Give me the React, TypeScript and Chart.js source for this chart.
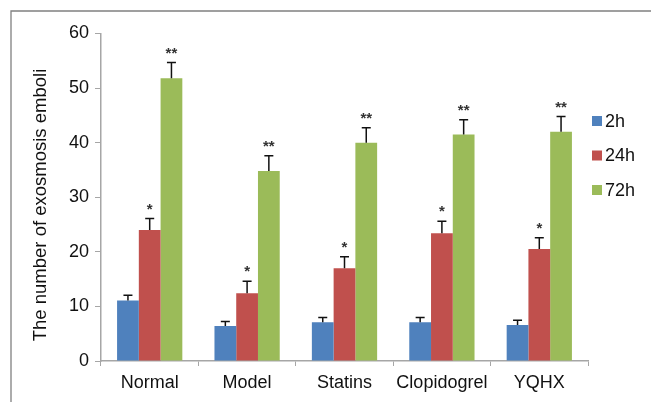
import React, { useEffect, useRef } from "react";
import { Chart, registerables } from "chart.js";

Chart.register(...registerables);

const categories = ["Normal", "Model", "Statins", "Clopidogrel", "YQHX"];
const seriesLabels = ["2h", "24h", "72h"];
const values2h = [11.1, 6.4, 7.1, 7.1, 6.6];
const values24h = [24.0, 12.4, 17.0, 23.4, 20.5];
const values72h = [51.8, 34.8, 40.0, 41.5, 42.0];
const err2h = [0.95, 0.85, 0.85, 0.85, 0.85];
const err24h = [2.1, 2.2, 2.1, 2.2, 2.1];
const err72h = [2.9, 2.8, 2.75, 2.7, 2.8];
const stars2h = ["", "", "", "", ""];
const stars24h = ["*", "*", "*", "*", "*"];
const stars72h = ["**", "**", "**", "**", "**"];
const yTicks = [0, 10, 20, 30, 40, 50, 60];
const yTitle = "The number of exosmosis emboli";
const colors = ["#4F81BD", "#C0504D", "#9BBB59"];

const errors = [err2h, err24h, err72h];
const stars = [stars2h, stars24h, stars72h];

const FONT = "'Liberation Sans', Arial, sans-serif";

const overlay = {
  id: "overlay",
  afterDatasetsDraw(chart: any) {
    const ctx = chart.ctx;
    const y = chart.scales.y;
    ctx.save();
    chart.data.datasets.forEach((ds: any, di: number) => {
      const meta = chart.getDatasetMeta(di);
      meta.data.forEach((bar: any, i: number) => {
        const v = ds.data[i];
        const e = errors[di][i];
        const x = bar.x;
        const yTop = y.getPixelForValue(v);
        const yErr = y.getPixelForValue(v + e);
        ctx.strokeStyle = "#111";
        ctx.lineWidth = 1.5;
        ctx.beginPath();
        ctx.moveTo(x, yTop);
        ctx.lineTo(x, yErr);
        ctx.moveTo(x - 4.5, yErr);
        ctx.lineTo(x + 4.5, yErr);
        ctx.stroke();
        const s = stars[di][i];
        if (s) {
          ctx.fillStyle = "#333";
          ctx.font = `bold 15px ${FONT}`;
          ctx.textAlign = "center";
          ctx.textBaseline = "middle";
          ctx.fillText(s, x, yErr - 9);
        }
      });
    });
    ctx.restore();
  },
  afterDraw(chart: any) {
    const ctx = chart.ctx;
    ctx.save();
    // frame
    ctx.strokeStyle = "#808080";
    ctx.lineWidth = 1.3;
    ctx.beginPath();
    ctx.moveTo(11, 402);
    ctx.lineTo(11, 11);
    ctx.lineTo(651, 11);
    ctx.stroke();
    // y title
    ctx.save();
    ctx.translate(41, 205);
    ctx.rotate(-Math.PI / 2);
    ctx.font = `18.5px ${FONT}`;
    ctx.fillStyle = "#111";
    ctx.textAlign = "center";
    ctx.textBaseline = "middle";
    ctx.fillText(yTitle, 0, 0);
    ctx.restore();
    // legend
    ctx.font = `18px ${FONT}`;
    ctx.textBaseline = "middle";
    ctx.textAlign = "left";
    const ys = [121, 155.5, 190];
    chart.data.datasets.forEach((ds: any, di: number) => {
      ctx.fillStyle = ds.backgroundColor;
      ctx.fillRect(592, ys[di] - 5, 10, 10);
      ctx.fillStyle = "#111";
      ctx.fillText(ds.label, 605, ys[di] + 1);
    });
    ctx.restore();
  },
};

export default function App() {
  const ref = useRef<HTMLCanvasElement>(null);
  useEffect(() => {
    if (!ref.current) return;
    const dataSets = [values2h, values24h, values72h];
    const chart = new Chart(ref.current, {
      type: "bar",
      data: {
        labels: categories,
        datasets: dataSets.map((d, i) => ({
          label: seriesLabels[i],
          data: d,
          backgroundColor: colors[i],
          borderWidth: 0,
          categoryPercentage: 0.67,
          barPercentage: 1.0,
        })),
      },
      options: {
        animation: false,
        responsive: false,
        devicePixelRatio: 1,
        layout: { padding: { left: 0, top: 33.5, right: 63, bottom: 0 } },
        plugins: { legend: { display: false }, tooltip: { enabled: false } },
        scales: {
          x: {
            afterFit: (s: any) => {
              s.height = 41;
            },
            grid: {
              drawOnChartArea: false,
              drawTicks: true,
              tickLength: 5,
              color: "#a6a6a6",
              offset: true,
            },
            border: { color: "#a6a6a6", width: 1.5 },
            ticks: {
              color: "#111",
              font: { family: FONT, size: 18 },
              padding: 6,
            },
          },
          y: {
            min: 0,
            max: 60,
            afterFit: (s: any) => {
              s.width = 101;
            },
            afterBuildTicks: (s: any) => {
              s.ticks = yTicks.map((v) => ({ value: v }));
            },
            grid: {
              drawOnChartArea: false,
              drawTicks: true,
              tickLength: 6,
              color: "#a6a6a6",
            },
            border: { color: "#a6a6a6", width: 1.5 },
            ticks: {
              color: "#111",
              font: { family: FONT, size: 18 },
              padding: 6,
            },
          },
        },
      },
      plugins: [overlay],
    });
    return () => chart.destroy();
  }, []);
  return (
    <div style={{ position: "fixed", left: 0, top: 0, width: 651, height: 402, background: "#fff" }}>
      <canvas ref={ref} width={651} height={402} style={{ display: "block" }} />
    </div>
  );
}
